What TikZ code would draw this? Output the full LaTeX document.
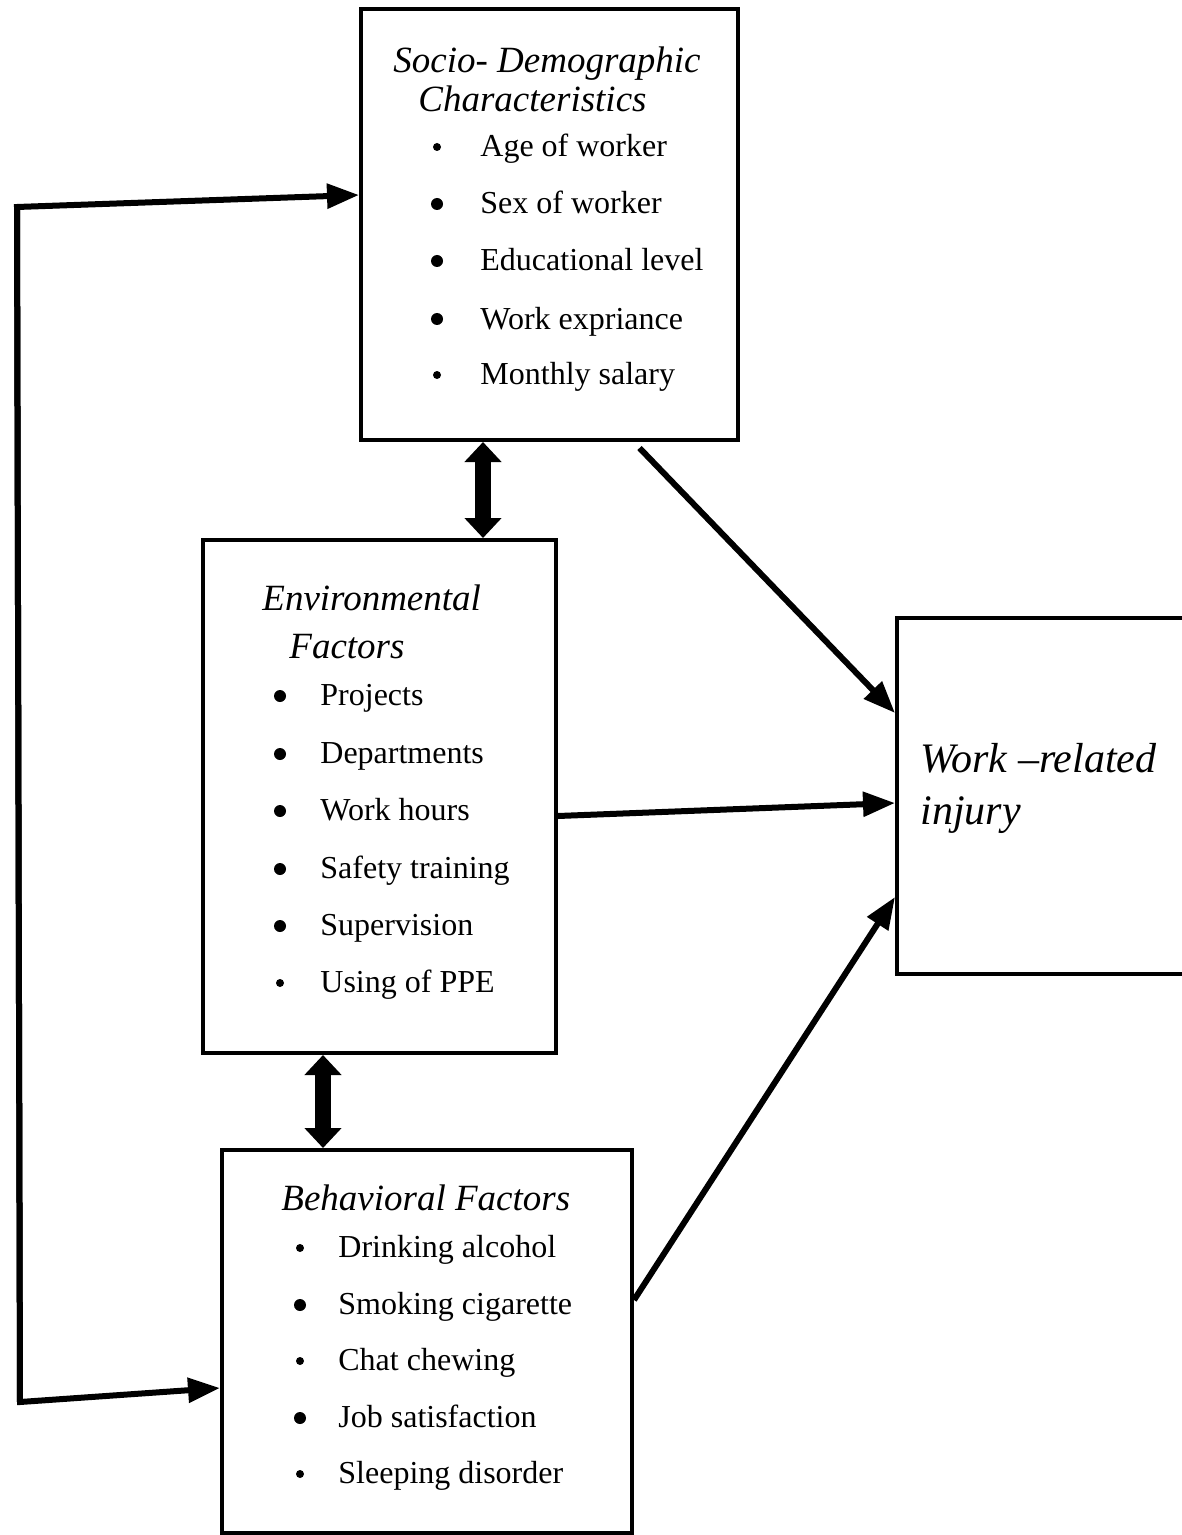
\documentclass[tikz,border=0pt]{standalone}
\usepackage{fontspec}
\setmainfont{Liberation Serif}
\usetikzlibrary{arrows.meta}
\usetikzlibrary{positioning}

\begin{document}
\begin{tikzpicture}[x=0.5pt,y=-0.5pt]
      \tikzset{
        box/.style={draw, line width=2pt, inner sep=0pt, rectangle},
        head/.style={font=\fontsize{18.5}{22}\selectfont\itshape, anchor=base west, inner sep=0pt},
        bighead/.style={font=\fontsize{21}{25}\selectfont\itshape, anchor=base west, inner sep=0pt},
        entry/.style={font=\fontsize{16}{19}\selectfont, anchor=base west, inner sep=0pt},
        smalldot/.style={circle, fill, inner sep=0pt, minimum size=4pt},
        bigdot/.style={circle, fill, inner sep=0pt, minimum size=6pt},
        link/.style={-{Triangle[length=16pt,width=12pt]}, line width=3pt},
        twoway/.style={{Triangle[length=10pt,width=18pt]}-{Triangle[length=10pt,width=18pt]}, line width=8pt},
      }
      \useasboundingbox (0,0) rectangle (1182,1535);

      % boxes
      \node[box, minimum width=188.5pt, minimum height=215.5pt] (socio) at (549.5,224.5) {};
      \node[box, minimum width=176.5pt, minimum height=256.5pt] (env) at (379.5,796.5) {};
      \node[box, minimum width=205pt, minimum height=191.5pt] (behav) at (427,1341.5) {};
      \node[box, minimum width=151.5pt, minimum height=178pt] (injury) at (1048.5,796) {};

      % headings
      \node[head] (sociohead1) at (393,73) {Socio- Demographic};
      \node[head] (sociohead2) at (418,112) {Characteristics};
      \node[head] (envhead1) at (262,610) {Environmental};
      \node[head] (envhead2) at (289,658) {Factors};
      \node[head] (behavhead) at (281,1210) {Behavioral Factors};
      \node[bighead] (injuryhead1) at (920,772) {Work –related};
      \node[bighead] (injuryhead2) at (920,824) {injury};

      % items
      \foreach \t/\y/\s [count=\n] in {Age of worker/157/smalldot, Sex of worker/214/bigdot,
          Educational level/271/bigdot, Work expriance/329/bigdot, Monthly salary/385/smalldot}{
        \node[\s] (sociodot\n) at (437,\y-10) {};
        \node[entry] (socioitem\n) at (480,\y) {\t};
      }
      \foreach \t/\y/\s [count=\n] in {Projects/705/bigdot, Departments/763/bigdot,
          Work hours/820/bigdot, Safety training/878/bigdot, Supervision/935/bigdot,
          Using of PPE/992/smalldot}{
        \node[\s] (envdot\n) at (280,\y-9) {};
        \node[entry] (envitem\n) at (320,\y) {\t};
      }
      \foreach \t/\y/\s [count=\n] in {Drinking alcohol/1257/smalldot, Smoking cigarette/1314/bigdot,
          Chat chewing/1370/smalldot, Job satisfaction/1427/bigdot, Sleeping disorder/1483/smalldot}{
        \node[\s] (behavdot\n) at (300,\y-9) {};
        \node[entry] (behavitem\n) at (338,\y) {\t};
      }

      % connectors
      \coordinate (looptop) at (17,207);
      \coordinate (loopbot) at (20,1402);
      \draw[link] (loopbot) -- (looptop) -- ([yshift=14.75pt]socio.west);
      \draw[link] (looptop) -- (loopbot) -- ([yshift=-23.25pt]behav.west);

      \draw[link] ([xshift=45pt,yshift=-3pt]socio.south) -- ([yshift=41.5pt]injury.west);
      \draw[link] ([yshift=-9.75pt]env.east) -- ([yshift=-3.5pt]injury.west);
      \draw[link] ([yshift=20.75pt]behav.east) -- ([yshift=-50.5pt]injury.west);

      \draw[twoway] ([xshift=-33.25pt]socio.south) -- ([xshift=51.75pt]env.north);
      \draw[twoway] ([xshift=-28.25pt]env.south) -- ([xshift=-52pt]behav.north);
    \end{tikzpicture}
\end{document}
